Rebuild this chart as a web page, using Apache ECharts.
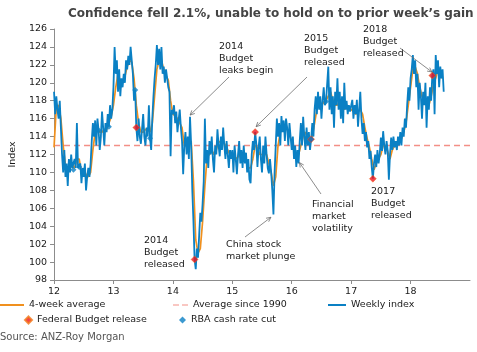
<!DOCTYPE html>
<html>
<head>
<meta charset="utf-8">
<script src="https://cdn.jsdelivr.net/npm/echarts@6/dist/echarts.min.js"></script>
<style>
  html, body { margin: 0; padding: 0; background: #fff; }
  #chart { width: 477px; height: 352px; }
</style>
</head>
<body>
<div id="chart"></div>
<script>
const FONT = '"DejaVu Sans", Verdana, sans-serif'

// weekly index, one value per week from the first week of 2012
const weekly2012 = [
  119.0, 116.5, 118.5, 117.0, 116.0, 118.0, 115.0, 112.0, 110.0, 112.5,
  109.5, 111.0, 108.5, 111.5, 110.0, 112.0, 110.5, 110.3, 111.5, 110.5,
  115.5, 110.5, 110.6, 111.0, 108.8, 110.5, 109.5, 111.0, 108.0, 109.5,
  110.5, 109.5, 111.0, 113.5, 115.5, 114.0, 115.8, 113.0, 116.0, 114.7,
  112.5, 114.0, 116.8, 115.0, 113.0, 115.5, 114.5, 116.5, 115.1, 117.5,
  116.0, 117.0,
]
const weekly2013 = [
  119.5, 124.0, 121.0, 122.5, 119.0, 121.5, 118.5, 120.5, 119.5, 121.0,
  120.0, 122.5, 121.5, 123.0, 122.0, 124.0, 122.5, 121.0, 118.0, 119.2,
  115.0, 113.5, 116.0, 114.0, 113.2, 114.8, 116.5, 114.0, 113.0, 115.0,
  114.0, 117.5, 113.8, 112.5, 116.0, 118.5, 120.5, 122.0, 124.2, 122.0,
  123.8, 121.5, 124.0, 121.0, 121.8, 120.0, 121.5, 120.5, 119.5, 119.0,
  111.8, 117.0,
]
const weekly2014 = [
  116.5, 117.5, 115.5, 116.8, 114.5, 115.8, 117.0, 115.0, 113.5, 109.8,
  113.0, 114.5, 112.0, 114.0, 111.5, 116.2, 113.0, 108.0, 104.5, 100.3,
  99.2, 101.5, 100.5, 103.0, 105.5, 104.5, 106.5, 109.0, 116.0, 111.0,
  112.5, 110.5, 113.5, 112.0, 114.0, 111.5, 110.0, 113.0, 112.0, 114.8,
  113.0, 111.8, 114.0, 112.5, 115.0, 113.0, 111.5, 113.5, 112.0, 110.5,
  112.5, 111.5,
]
const weekly2015 = [
  112.5, 110.0, 113.0, 111.5, 109.8, 112.0, 113.5, 111.0, 112.5, 110.5,
  113.0, 111.0, 112.2, 110.0, 111.5, 109.2, 108.8, 112.0, 113.5, 112.5,
  114.5, 113.2, 110.6, 112.8, 114.0, 111.5, 110.0, 113.0, 111.0, 114.0,
  112.0, 110.5, 109.9, 111.5, 110.0, 108.0, 105.3, 110.0, 113.0, 116.0,
  114.0, 115.5, 113.0, 116.3, 114.5, 115.8, 113.5, 116.0, 115.0, 113.0,
  115.5, 114.0,
]
const weekly2016 = [
  112.5, 114.0, 111.5, 113.0, 110.6, 112.5, 111.0, 113.5, 115.5, 113.0,
  116.2, 114.0, 112.5, 115.0, 113.0, 114.5, 112.5, 113.7, 115.5, 114.0,
  117.0, 118.5, 116.5, 119.0, 117.0, 118.5, 116.0, 118.0, 119.5, 117.5,
  117.9, 118.0, 121.8, 117.0, 119.5, 116.5, 118.5, 115.0, 119.0, 117.5,
  120.5, 117.0, 119.0, 116.0, 118.5, 115.5, 120.0, 117.0, 118.0, 116.5,
  117.5, 116.8,
]
const weekly2017 = [
  117.0, 118.1, 116.0, 117.5, 116.5, 118.1, 115.1, 117.0, 119.0, 116.0,
  114.3, 115.5, 113.5, 114.5, 112.8, 113.5, 111.5, 112.4, 110.6, 109.3,
  111.0, 112.0, 110.6, 112.5, 111.0, 112.0, 113.9, 112.4, 114.6, 113.0,
  112.0, 113.5, 112.4, 109.2, 112.0, 113.9, 112.5, 114.0, 112.8, 113.5,
  112.5, 114.0, 113.0, 114.5, 113.0, 115.0, 114.0, 116.0, 115.0, 117.5,
  119.5, 118.0,
]
const weekly2018 = [
  120.5, 121.5, 123.1, 121.0, 122.5, 119.5, 121.0, 117.0, 120.0, 118.5,
  116.0, 119.0, 117.5, 120.0, 115.0, 118.5, 117.0, 119.5, 118.0, 120.8,
  121.5, 116.5, 123.1, 121.0, 122.5, 119.5, 121.8, 120.5, 121.5, 119.0,
]

// 4-week average, read every second week
const avg2012 = [112.8, 117.3, 117.5, 116.0, 113.0, 110.8, 110.5, 110.5, 110.8, 110.5, 111.5, 111.5, 110.0, 110.0, 109.8, 109.5, 110.0, 112.5, 114.5, 114.8, 114.5, 114.5, 114.8, 114.8, 115.5, 116.2]
const avg2013 = [117.5, 119.5, 121.0, 120.0, 120.0, 120.7, 121.8, 122.5, 122.3, 120.5, 117.5, 115.5, 114.5, 114.5, 114.8, 114.8, 114.5, 115.5, 118.5, 121.5, 122.5, 122.5, 121.5, 120.8, 120.3, 118.0]
const avg2014 = [116.5, 116.3, 116.0, 115.5, 115.0, 113.0, 113.0, 113.3, 113.5, 109.0, 102.5, 101.0, 101.5, 104.5, 108.5, 111.8, 112.0, 112.5, 112.0, 112.5, 113.5, 113.3, 113.5, 113.0, 112.5, 112.0]
const avg2015 = [112.0, 111.8, 111.5, 112.0, 111.8, 111.8, 111.5, 110.5, 110.5, 111.5, 113.0, 112.8, 112.0, 112.0, 112.0, 112.0, 111.0, 110.0, 108.5, 109.5, 113.0, 114.5, 115.0, 115.0, 114.8, 114.2]
const avg2016 = [113.5, 112.5, 112.0, 112.0, 113.0, 114.0, 114.5, 113.8, 113.5, 114.0, 115.5, 117.0, 117.5, 117.5, 117.8, 118.0, 118.5, 119.0, 118.0, 117.5, 117.5, 118.0, 117.5, 117.0, 117.5, 117.3]
const avg2017 = [117.0, 116.8, 116.5, 116.8, 117.0, 116.5, 115.0, 113.8, 112.8, 111.5, 110.3, 111.0, 111.5, 112.0, 113.0, 113.0, 112.3, 111.5, 112.5, 113.0, 113.2, 113.5, 113.8, 114.5, 115.5, 117.5]
const avg2018 = [119.5, 121.5, 121.8, 121.0, 119.5, 118.5, 118.0, 117.5, 117.5, 118.5, 119.8, 120.5, 121.5, 121.0, 120.5]

const avgSince1990 = 113

// week numbers (counted from 2012 week 1) of events
const budgetWeeks = [72, 123, 176, 225, 279, 331]
const rbaCutWeeks = [17, 22, 39, 48, 71, 84, 225, 238]

const weekly = [...weekly2012, ...weekly2013, ...weekly2014, ...weekly2015, ...weekly2016, ...weekly2017, ...weekly2018]
const avg4 = [...avg2012, ...avg2013, ...avg2014, ...avg2015, ...avg2016, ...avg2017, ...avg2018]

const weekToYear = (w) => 12 + w / 52

const weeklyPoints = weekly.map((v, i) => [weekToYear(i), v])
const avgPoints = avg4.map((v, i) => [weekToYear(i * 2), v])
const budgetPoints = budgetWeeks.map((w) => [weekToYear(w), weekly[w]])
const rbaPoints = rbaCutWeeks.map((w) => [weekToYear(w), weekly[w]])

const COLORS = {
  weekly: '#0a80c4',
  avg: '#f0901e',
  longAvg: '#f38f86',
  budget: '#f0141e',
  rba: '#0a80c4',
  axis: '#8c8c8c',
  text: '#1a1a1a',
  arrow: '#6e6e6e',
}

// annotation text boxes (px) and arrow tips (data coords)
const notes = [
  { text: '2014\nBudget\nleaks begin', left: 219, top: 41, from: [229, 77], tip: [14.29, 116.4] },
  { text: '2015\nBudget\nreleased', left: 304, top: 33, from: [307, 77], tip: [15.4, 115.1] },
  { text: '2018\nBudget\nreleased', left: 363, top: 24, from: [400, 48], tip: [18.36, 121.2] },
  { text: '2014\nBudget\nreleased', left: 144, top: 235 },
  { text: 'China stock\nmarket plunge', left: 226, top: 239, from: [245, 237], tip: [15.65, 105.0] },
  { text: 'Financial\nmarket\nvolatility', left: 312, top: 199, from: [321, 194], tip: [16.13, 111.1] },
  { text: '2017\nBudget\nreleased', left: 371, top: 186 },
]

const chart = echarts.init(document.getElementById('chart'))

const legendText = { color: COLORS.text, fontFamily: FONT, fontSize: 9.5 }
const oneLegend = (name, left, top, icon, w, h) => ({
  data: [{ name, icon }],
  left,
  top,
  itemWidth: w,
  itemHeight: h,
  itemGap: 0,
  padding: 0,
  selectedMode: false,
  textStyle: legendText,
})

chart.setOption({
  animation: false,
  textStyle: { fontFamily: FONT },
  title: {
    text: 'Confidence fell 2.1%, unable to hold on to prior week\u2019s gain',
    left: 63,
    top: 3,
    textStyle: { color: '#444', fontSize: 12, fontWeight: 'bold', fontFamily: FONT },
  },
  legend: [
    oneLegend('4-week average', 0, 300, 'rect', 24, 2),
    oneLegend('Average since 1990', 173, 300, 'path://M0,0h6v1h-6z M9,0h6v1h-6z', 15, 2),
    oneLegend('Weekly index', 328, 300, 'rect', 18, 2),
    oneLegend('Federal Budget release', 24, 315, 'diamond', 7, 7),
    oneLegend('RBA cash rate cut', 179, 315, 'diamond', 7, 7),
  ],
  grid: { left: 47, right: 7, top: 29, bottom: 72 },
  xAxis: {
    type: 'value',
    min: 12,
    max: 19,
    interval: 1,
    axisLine: { lineStyle: { color: COLORS.axis } },
    axisTick: { length: 4, lineStyle: { color: COLORS.axis } },
    axisLabel: {
      color: COLORS.text,
      fontSize: 9.5,
      margin: 7,
      showMaxLabel: false,
      formatter: (v) => (v >= 19 ? '' : String(v)),
    },
    splitLine: { show: false },
  },
  yAxis: {
    type: 'value',
    min: 98,
    max: 126,
    interval: 2,
    name: 'Index',
    nameLocation: 'middle',
    nameRotate: 90,
    nameGap: 36,
    nameTextStyle: { color: COLORS.text, fontSize: 9.5 },
    axisLine: { show: true, lineStyle: { color: COLORS.axis } },
    axisTick: { show: true, length: 4, lineStyle: { color: COLORS.axis } },
    axisLabel: { color: COLORS.text, fontSize: 9.5, margin: 7 },
    splitLine: { show: false },
  },
  series: [
    {
      name: '4-week average',
      type: 'line',
      data: avgPoints,
      showSymbol: false,
      color: COLORS.avg,
      lineStyle: { width: 1.7, color: COLORS.avg },
      z: 2,
    },
    {
      name: 'Average since 1990',
      type: 'line',
      data: [[12, avgSince1990], [19, avgSince1990]],
      showSymbol: false,
      color: COLORS.longAvg,
      lineStyle: { width: 1.5, type: [6, 4], color: COLORS.longAvg },
      z: 1,
    },
    {
      name: 'Weekly index',
      type: 'line',
      data: weeklyPoints,
      showSymbol: false,
      color: COLORS.weekly,
      lineStyle: { width: 1.8, color: COLORS.weekly },
      z: 3,
    },
    {
      name: 'Federal Budget release',
      type: 'scatter',
      data: budgetPoints,
      symbol: 'diamond',
      symbolSize: 7,
      itemStyle: { color: COLORS.budget, borderColor: '#f27a1a', borderWidth: 0.5 },
      z: 4,
    },
    {
      name: 'RBA cash rate cut',
      type: 'scatter',
      data: rbaPoints,
      symbol: 'diamond',
      symbolSize: 6,
      itemStyle: { color: COLORS.rba },
      z: 5,
    },
  ],
})

// annotations with arrows pointing to data
const graphics = []
notes.forEach((n) => {
  graphics.push({
    type: 'text',
    left: n.left,
    top: n.top,
    style: { text: n.text, fill: COLORS.text, font: `9.5px ${FONT}`, lineHeight: 12 },
    z: 10,
  })
  if (!n.tip) return
  const [tx, ty] = chart.convertToPixel({ gridIndex: 0 }, n.tip)
  const [fx, fy] = n.from
  const ang = Math.atan2(ty - fy, tx - fx)
  const head = 5
  const spread = 0.45
  graphics.push({
    type: 'line',
    shape: { x1: fx, y1: fy, x2: tx, y2: ty },
    style: { stroke: COLORS.arrow, lineWidth: 0.8 },
    z: 10,
  })
  graphics.push({
    type: 'polyline',
    shape: {
      points: [
        [tx - head * Math.cos(ang - spread), ty - head * Math.sin(ang - spread)],
        [tx, ty],
        [tx - head * Math.cos(ang + spread), ty - head * Math.sin(ang + spread)],
      ],
    },
    style: { stroke: COLORS.arrow, lineWidth: 0.8, fill: null },
    z: 10,
  })
})
graphics.push({
  type: 'text',
  left: 0,
  top: 332,
  style: { text: 'Source: ANZ-Roy Morgan', fill: '#555', font: `10px ${FONT}` },
})
chart.setOption({ graphic: graphics })
</script>
</body>
</html>
